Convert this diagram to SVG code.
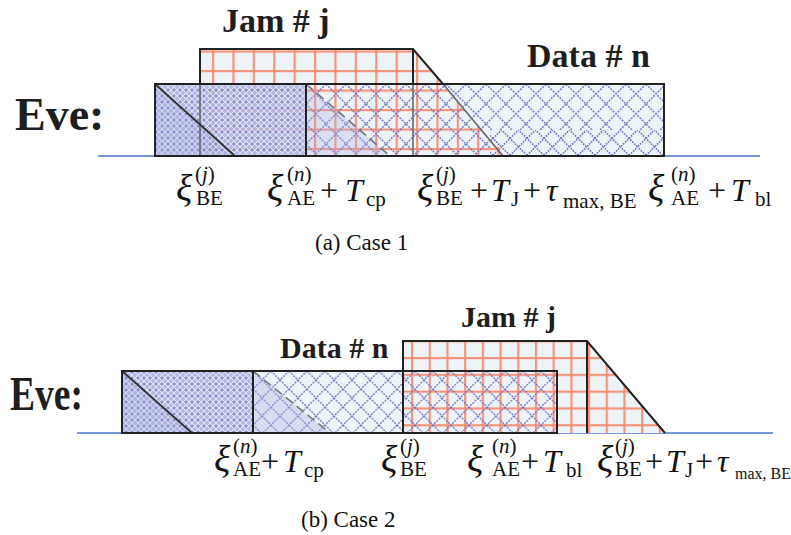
<svg xmlns="http://www.w3.org/2000/svg" width="791" height="535" viewBox="0 0 791 535">
<defs>
<style>
.ol{fill:none;stroke:#222;stroke-width:2}
.bl{stroke:#4a78c8;stroke-width:1.6}
.eve{font-family:"Liberation Serif",serif;font-weight:bold;fill:#1e1e1e}
.tt{font-family:"Liberation Serif",serif;font-weight:bold;fill:#1e1e1e}
.lab{font-family:"Liberation Serif",serif;fill:#111}
.m{font-size:32px}
.x{font-size:38px;font-style:italic}
.i{font-style:italic}
.s{font-size:21px}
.cap{font-family:"Liberation Serif",serif;font-size:23px;fill:#111}
.bg{fill:#eef3f8}
</style>
<pattern id="grid1" patternUnits="userSpaceOnUse" x="212" y="70" width="20.4" height="19.5">
<rect x="0" y="0" width="2.2" height="19.5" fill="#f48b70" fill-opacity="0.9"/>
<rect x="0" y="0" width="20.4" height="2.2" fill="#f48b70" fill-opacity="0.9"/>
</pattern>
<pattern id="grid2" patternUnits="userSpaceOnUse" x="411" y="357" width="17.7" height="16.8">
<rect x="0" y="0" width="2.2" height="16.8" fill="#f48b70" fill-opacity="0.9"/>
<rect x="0" y="0" width="17.7" height="2.2" fill="#f48b70" fill-opacity="0.9"/>
</pattern>
<pattern id="dense" patternUnits="userSpaceOnUse" width="6" height="6">
<rect width="6" height="6" fill="#adb2df" fill-opacity="0.85"/>
<path d="M0 3L3 0L6 3L3 6Z" fill="none" stroke="#e8eaf8" stroke-width="1" stroke-opacity="0.8"/>
<circle cx="0" cy="0" r="0.9" fill="#737bc4"/>
<circle cx="6" cy="6" r="0.9" fill="#737bc4"/>
<circle cx="6" cy="0" r="0.9" fill="#737bc4"/>
<circle cx="0" cy="6" r="0.9" fill="#737bc4"/>
</pattern>
<pattern id="dia1" patternUnits="userSpaceOnUse" x="306" y="84" width="20" height="20">
<path d="M0 0L20 20M20 0L0 20" fill="none" stroke="#6870c2" stroke-width="1.5" stroke-dasharray="2 1.2" stroke-opacity="0.9"/>
</pattern>
<pattern id="dia2" patternUnits="userSpaceOnUse" x="253" y="371" width="18" height="18">
<path d="M0 0L18 18M18 0L0 18" fill="none" stroke="#6870c2" stroke-width="1.4" stroke-dasharray="2 1.1" stroke-opacity="0.9"/>
</pattern>
<pattern id="scal" patternUnits="userSpaceOnUse" x="0" y="130" width="17" height="17">
<path d="M0 8.5L8.5 0L17 8.5L8.5 17Z" fill="none" stroke="#6870c2" stroke-width="1.6" stroke-dasharray="1.6 1.2"/>
</pattern>
</defs>
<rect width="791" height="535" fill="#fff"/>

<!-- ================= Case 1 ================= -->
<g id="case1">
<line id="axis1" class="bl" x1="98" y1="156" x2="760" y2="156"/>
<text id="eve1" class="eve" x="15" y="130" font-size="46">Eve:</text>
<text id="jam1-title" class="tt" x="222" y="32" font-size="34">Jam # j</text>
<text id="data1-title" class="tt" x="527" y="67" font-size="34">Data # n</text>

<g id="data1-bg">
<rect class="bg" x="155" y="84" width="509" height="72"/>
</g>
<g id="jam1">
<path class="bg" d="M200 49H413L503 156H200Z"/>
<path d="M200 49H413L503 156H200Z" fill="url(#grid1)"/>
</g>
<g id="data1">
<rect x="155" y="84" width="151" height="72" fill="url(#dense)"/>
<path d="M155 84L235 156H155Z" fill="#8c93d0" fill-opacity="0.15"/>
<rect x="306" y="84" width="358" height="72" fill="url(#dia1)"/>
<path d="M306 84L390 156H306Z" fill="#aab0e0" fill-opacity="0.3"/>
<rect x="490" y="130" width="174" height="26" class="bg"/>
<rect x="490" y="130" width="174" height="26" fill="url(#scal)"/>
<path d="M490 130L503 156H490Z" fill="url(#grid1)"/>
</g>
<g id="outlines1">
<line x1="200" y1="84" x2="200" y2="156" stroke="#666" stroke-width="1.6"/>
<line x1="413" y1="84" x2="413" y2="156" stroke="#777" stroke-width="1.8"/>
<line x1="443" y1="84" x2="503" y2="156" stroke="#666" stroke-width="1.6"/>
<line x1="155" y1="84" x2="235" y2="156" stroke="#333" stroke-width="1.8"/>
<line x1="306" y1="84" x2="390" y2="156" stroke="#777" stroke-width="1.6" stroke-dasharray="9 5"/>
<path class="ol" d="M200 84V49H413L443 84"/>
<line x1="413" y1="49" x2="413" y2="84" stroke="#222" stroke-width="2"/>
<rect class="ol" x="155" y="84" width="509" height="72"/>
<line x1="306" y1="84" x2="306" y2="156" stroke="#222" stroke-width="2"/>
</g>

<g id="lab1-a">
<text class="lab"><tspan class="x" x="176" y="201">ξ</tspan><tspan class="s" x="195" y="181">(<tspan class="i">j</tspan>)</tspan><tspan class="s" x="196" y="205">BE</tspan></text>
</g>
<g id="lab1-b">
<text class="lab"><tspan class="x" x="267" y="201">ξ</tspan><tspan class="s" x="287" y="181">(<tspan class="i">n</tspan>)</tspan><tspan class="s" x="287" y="205">AE</tspan><tspan class="m" x="320" y="201">+</tspan><tspan class="m i" x="345" y="201">T</tspan><tspan class="s" x="366" y="206">cp</tspan></text>
</g>
<g id="lab1-c">
<text class="lab"><tspan class="x" x="417" y="201">ξ</tspan><tspan class="s" x="436" y="181">(<tspan class="i">j</tspan>)</tspan><tspan class="s" x="436" y="205">BE</tspan><tspan class="m" x="470" y="201">+</tspan><tspan class="m i" x="491" y="201">T</tspan><tspan class="s" x="511" y="206">J</tspan><tspan class="m" x="523" y="201">+</tspan><tspan class="m i" x="546" y="201">τ</tspan><tspan class="s" x="563" y="208">max, BE</tspan></text>
</g>
<g id="lab1-d">
<text class="lab"><tspan class="x" x="648" y="201">ξ</tspan><tspan class="s" x="671" y="181">(<tspan class="i">n</tspan>)</tspan><tspan class="s" x="671" y="205">AE</tspan><tspan class="m" x="708" y="201">+</tspan><tspan class="m i" x="731" y="201">T</tspan><tspan class="s" x="755" y="206">bl</tspan></text>
</g>
<text id="cap1" class="cap" x="315" y="250">(a)  Case 1</text>
</g>

<!-- ================= Case 2 ================= -->
<g id="case2">
<line id="axis2" class="bl" x1="77" y1="433" x2="773" y2="433"/>
<text id="eve2" class="eve" x="10" y="410" font-size="48" textLength="73" lengthAdjust="spacingAndGlyphs">Eve:</text>
<text id="data2-title" class="tt" x="280" y="358" font-size="30">Data # n</text>
<text id="jam2-title" class="tt" x="461" y="327" font-size="30">Jam # j</text>

<g id="data2-bg">
<rect class="bg" x="122" y="371" width="435" height="62"/>
</g>
<g id="jam2">
<path class="bg" d="M403 341H587L665 433H403Z"/>
<path d="M403 341H587L665 433H403Z" fill="url(#grid2)"/>
</g>
<g id="data2">
<rect x="122" y="371" width="131" height="62" fill="url(#dense)"/>
<path d="M122 371L192 433H122Z" fill="#8c93d0" fill-opacity="0.15"/>
<rect x="253" y="371" width="304" height="62" fill="url(#dia2)"/>
<path d="M253 371L330 433H253Z" fill="#aab0e0" fill-opacity="0.35"/>
</g>
<g id="outlines2">
<line x1="122" y1="371" x2="192" y2="433" stroke="#333" stroke-width="1.8"/>
<line x1="253" y1="371" x2="330" y2="433" stroke="#777" stroke-width="1.6" stroke-dasharray="9 5"/>
<path class="ol" d="M403 433V341H587L665 433"/>
<line x1="587" y1="341" x2="587" y2="433" stroke="#222" stroke-width="2"/>
<rect class="ol" x="122" y="371" width="435" height="62"/>
<line x1="253" y1="371" x2="253" y2="433" stroke="#222" stroke-width="2"/>
</g>

<g id="lab2-a">
<text class="lab"><tspan class="x" x="214" y="472">ξ</tspan><tspan class="s" x="233" y="453">(<tspan class="i">n</tspan>)</tspan><tspan class="s" x="233" y="476">AE</tspan><tspan class="m" x="261" y="472">+</tspan><tspan class="m i" x="283" y="472">T</tspan><tspan class="s" x="304" y="477">cp</tspan></text>
</g>
<g id="lab2-b">
<text class="lab"><tspan class="x" x="381" y="472">ξ</tspan><tspan class="s" x="400" y="453">(<tspan class="i">j</tspan>)</tspan><tspan class="s" x="400" y="476">BE</tspan></text>
</g>
<g id="lab2-c">
<text class="lab"><tspan class="x" x="467" y="472">ξ</tspan><tspan class="s" x="492" y="453">(<tspan class="i">n</tspan>)</tspan><tspan class="s" x="492" y="476">AE</tspan><tspan class="m" x="521" y="472">+</tspan><tspan class="m i" x="543" y="472">T</tspan><tspan class="s" x="566" y="477">bl</tspan></text>
</g>
<g id="lab2-d">
<text class="lab"><tspan class="x" x="597" y="472">ξ</tspan><tspan class="s" x="615" y="453">(<tspan class="i">j</tspan>)</tspan><tspan class="s" x="615" y="476">BE</tspan><tspan class="m" x="645" y="472">+</tspan><tspan class="m i" x="666" y="472">T</tspan><tspan class="s" x="685" y="477">J</tspan><tspan class="m" x="695" y="472">+</tspan><tspan class="m i" x="717" y="472">τ</tspan></text>
<text class="lab" x="735" y="479" font-size="16">max, BE</text>
</g>
<text id="cap2" class="cap" x="301" y="527">(b)  Case 2</text>
</g>
</svg>
